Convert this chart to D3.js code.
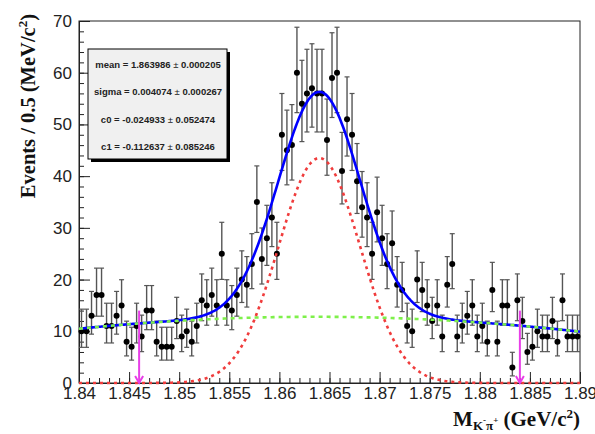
<!DOCTYPE html>
<html>
<head>
<meta charset="utf-8">
<script src="https://cdn.jsdelivr.net/npm/d3@7"></script>
<style>
  html, body { margin: 0; padding: 0; background: #fff; }
  svg { display: block; }
</style>
</head>
<body>
<svg id="chart" width="595" height="434"></svg>
<script>
// Histogram: D0 -> K- pi+ invariant mass, 0.5 MeV bins from 1.84 to 1.89 GeV/c^2
const massRange = [1.84, 1.89];
const binWidth = 0.0005;
const counts = [
  10, 10, 13, 17, 17, 11, 11, 13, 15, 8,
  7, 11, 9, 14, 14, 8, 7, 7, 7, 12,
  9, 10, 8, 11, 16, 15, 17, 15, 25, 15,
  14, 17, 20, 19, 23, 35, 24, 28, 32, 25,
  48, 45, 46, 60, 54, 56, 57, 56, 56, 47,
  59, 60, 41, 51, 48, 39, 34, 32, 25, 33,
  28, 23, 27, 19, 18, 11, 10, 20, 18, 15,
  12, 15, 9, 19, 23, 9, 11, 13, 15, 9,
  11, 8, 18, 8, 15, 15, 3, 16, 12, 6,
  7, 10, 9, 9, 12, 8, 16, 9, 9, 9
];

// Fit parameters (Gaussian signal + 1st-order Chebychev background)
const fitNames = ["mean", "sigma", "c0", "c1"];
const fitValues = [1.863986, 0.004074, -0.024933, -0.112637];
const fitErrors = [0.000205, 0.000267, 0.052474, 0.085246];
const signalPeak = 43.5;      // events/bin at the Gaussian peak
const bkgNorm = 11.5;         // events/bin scale of the Chebychev background

// Signal window marked with arrows
const windowEdges = [1.846, 1.884];
const arrowTop = 14;

const yTicks = [0, 10, 20, 30, 40, 50, 60, 70];
const xTicks = [1.84, 1.845, 1.85, 1.855, 1.86, 1.865, 1.87, 1.875, 1.88, 1.885, 1.89];

const svg = d3.select("#chart");
const x = d3.scaleLinear().domain(massRange).range([79, 580]);
const y = d3.scaleLinear().domain([0, 70]).range([383, 21]);

const sansFont = "'Liberation Sans', Arial, sans-serif";
const serifFont = "'Liberation Serif', 'Times New Roman', serif";

// Poisson 68% interval (Gehrels approximation)
function poissonLow(n) {
  if (n === 0) return 0;
  return n * Math.pow(1 - 1 / (9 * n) - 1 / (3 * Math.sqrt(n)), 3);
}
function poissonHigh(n) {
  return n + Math.sqrt(n + 0.75) + 1;
}

// Frame
svg.append("rect")
  .attr("x", x.range()[0]).attr("y", y.range()[1])
  .attr("width", x.range()[1] - x.range()[0])
  .attr("height", y.range()[0] - y.range()[1])
  .attr("fill", "none").attr("stroke", "#222").attr("stroke-width", 1);

// Axes
const xMinor = d3.range(0, 51).map(i => massRange[0] + i * 0.001);
svg.append("g")
  .attr("transform", `translate(0,${y(0)})`)
  .call(d3.axisBottom(x).tickValues(xMinor).tickSize(-5).tickFormat(""))
  .call(g => g.select(".domain").remove())
  .call(g => g.selectAll("line").attr("stroke", "#222"));
svg.append("g")
  .attr("transform", `translate(0,${y(0)})`)
  .call(d3.axisBottom(x).tickValues(xTicks).tickSize(-11).tickPadding(4)
    .tickFormat(d => String(+d.toFixed(3))))
  .call(g => g.select(".domain").attr("stroke", "#222"))
  .call(g => g.selectAll("line").attr("stroke", "#222"))
  .call(g => g.selectAll("text").attr("font-family", sansFont)
    .attr("font-size", 17).attr("fill", "#222"));

const yMinor = d3.range(0, 71, 2);
svg.append("g")
  .attr("transform", `translate(${x(massRange[0])},0)`)
  .call(d3.axisLeft(y).tickValues(yMinor).tickSize(-5).tickFormat(""))
  .call(g => g.select(".domain").remove())
  .call(g => g.selectAll("line").attr("stroke", "#222"));
svg.append("g")
  .attr("transform", `translate(${x(massRange[0])},0)`)
  .call(d3.axisLeft(y).tickValues(yTicks).tickSize(-11).tickPadding(7))
  .call(g => g.select(".domain").attr("stroke", "#222"))
  .call(g => g.selectAll("line").attr("stroke", "#222"))
  .call(g => g.selectAll("text").attr("font-family", sansFont)
    .attr("font-size", 17).attr("fill", "#222"));

// Axis titles
const yTitle = svg.append("text")
  .attr("transform", `translate(35,14) rotate(-90)`)
  .attr("text-anchor", "end")
  .attr("font-family", serifFont).attr("font-weight", "bold")
  .attr("font-size", 20.5).attr("fill", "#111");
yTitle.append("tspan").text("Events / 0.5 (MeV/c");
yTitle.append("tspan").attr("font-size", 13).attr("dy", -8).text("2");
yTitle.append("tspan").attr("dy", 8).text(")");

const xTitle = svg.append("text")
  .attr("x", 580).attr("y", 426)
  .attr("text-anchor", "end")
  .attr("font-family", serifFont).attr("font-weight", "bold")
  .attr("font-size", 21).attr("fill", "#111");
xTitle.append("tspan").text("M");
xTitle.append("tspan").attr("font-size", 13).attr("dy", 4).text("K");
xTitle.append("tspan").attr("font-size", 9).attr("dy", -7).text("-");
xTitle.append("tspan").attr("font-size", 13).attr("dy", 7).text("π");
xTitle.append("tspan").attr("font-size", 9).attr("dy", -7).text("+");
xTitle.append("tspan").attr("dy", 3).text(" (GeV/c");
xTitle.append("tspan").attr("font-size", 13).attr("dy", -8).text("2");
xTitle.append("tspan").attr("dy", 8).text(")");

// Data points with Poisson error bars
const bins = counts.map((n, i) => ({
  m: massRange[0] + (i + 0.5) * binWidth,
  n, lo: poissonLow(n), hi: poissonHigh(n)
}));
const pts = svg.append("g");
pts.selectAll("line.err").data(bins).join("line")
  .attr("x1", d => x(d.m)).attr("x2", d => x(d.m))
  .attr("y1", d => y(d.lo)).attr("y2", d => y(d.hi))
  .attr("stroke", "#555").attr("stroke-width", 1.4);
pts.selectAll("line.capTop").data(bins).join("line")
  .attr("x1", d => x(d.m) - 2.5).attr("x2", d => x(d.m) + 2.5)
  .attr("y1", d => y(d.hi)).attr("y2", d => y(d.hi))
  .attr("stroke", "#555").attr("stroke-width", 1.2);
pts.selectAll("line.capBot").data(bins).join("line")
  .attr("x1", d => x(d.m) - 2.5).attr("x2", d => x(d.m) + 2.5)
  .attr("y1", d => y(d.lo)).attr("y2", d => y(d.lo))
  .attr("stroke", "#555").attr("stroke-width", 1.2);
pts.selectAll("circle").data(bins).join("circle")
  .attr("cx", d => x(d.m)).attr("cy", d => y(d.n))
  .attr("r", 3).attr("fill", "#000");

// Fit curves
const [mean, sigma, c0, c1] = fitValues;
const mid = (massRange[0] + massRange[1]) / 2;
const half = (massRange[1] - massRange[0]) / 2;
const signal = m => signalPeak * Math.exp(-0.5 * Math.pow((m - mean) / sigma, 2));
const background = m => {
  const t = (m - mid) / half;
  return bkgNorm * (1 + c0 * t + c1 * (2 * t * t - 1));
};
const grid = d3.range(0, 401).map(i => massRange[0] + i * (massRange[1] - massRange[0]) / 400);
const curve = f => d3.line().x(m => x(m)).y(m => y(f(m)))(grid);

svg.append("path").attr("d", curve(m => signal(m) + background(m)))
  .attr("fill", "none").attr("stroke", "#0000ff").attr("stroke-width", 2.6);
svg.append("path").attr("d", curve(background))
  .attr("fill", "none").attr("stroke", "#7ef04a").attr("stroke-width", 2.6)
  .attr("stroke-dasharray", "4,4");
svg.append("path").attr("d", curve(signal))
  .attr("fill", "none").attr("stroke", "#f03c3c").attr("stroke-width", 2.6)
  .attr("stroke-dasharray", "3,4");

// Signal-window arrows
const arrows = svg.append("g").attr("stroke", "#e83ee8").attr("stroke-width", 2).attr("fill", "none");
windowEdges.forEach(m => {
  arrows.append("line")
    .attr("x1", x(m)).attr("x2", x(m))
    .attr("y1", y(arrowTop)).attr("y2", y(0));
  arrows.append("path")
    .attr("d", `M${x(m) - 4},${y(0) - 7} L${x(m)},${y(0)} L${x(m) + 4},${y(0) - 7}`);
});

// Fit-parameter box
const box = svg.append("g");
box.append("rect").attr("x", 91).attr("y", 52).attr("width", 139).attr("height", 110).attr("fill", "#000");
box.append("rect").attr("x", 88).attr("y", 49).attr("width", 139).attr("height", 110)
  .attr("fill", "#f0f0f0").attr("stroke", "#000").attr("stroke-width", 1);
fitNames.forEach((name, i) => {
  const digits = 6;
  const t = box.append("text")
    .attr("x", 158).attr("y", 68 + i * 27.3)
    .attr("text-anchor", "middle")
    .attr("font-family", sansFont).attr("font-size", 9.5).attr("fill", "#222");
  t.append("tspan").attr("font-weight", "bold")
    .text(`${name} = ${fitValues[i].toFixed(digits)} `);
  t.append("tspan").text("±");
  t.append("tspan").attr("font-weight", "bold").text(` ${fitErrors[i].toFixed(digits)}`);
});
</script>
</body>
</html>
